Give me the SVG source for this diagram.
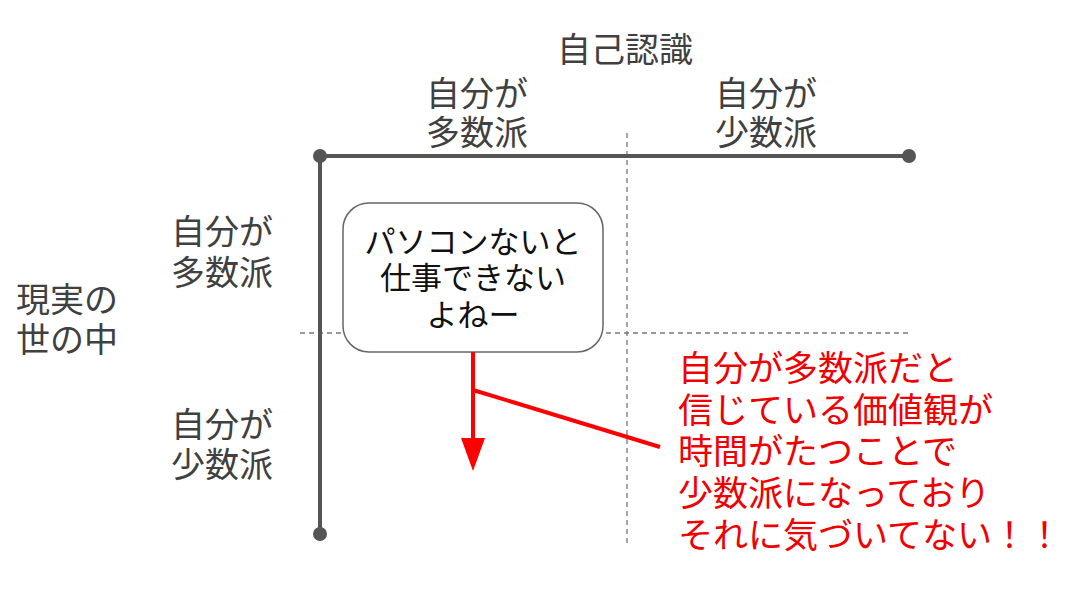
<svg xmlns="http://www.w3.org/2000/svg" width="1088" height="598" viewBox="0 0 1088 598">
<style>
.lbl{font-family:"Noto Sans CJK JP","Noto Sans CJK SC",sans-serif;font-size:34px;fill:#404040;text-anchor:middle}
.box{font-family:"Noto Sans CJK JP","Noto Sans CJK SC",sans-serif;font-size:31px;fill:#111;text-anchor:middle}
.red{font-family:"Noto Sans CJK JP","Noto Sans CJK SC",sans-serif;font-size:35px;fill:#f00000}
.axis{stroke:#555;stroke-width:4;fill:none}
.dash{stroke:#777;stroke-width:1.3;stroke-dasharray:5 4;fill:none}
.dot{fill:#555}
</style>
<rect width="1088" height="598" fill="#fff"/>
<g id="grid">
<line class="dash" x1="627" y1="133" x2="627" y2="545"/>
<line class="dash" x1="300" y1="333" x2="910" y2="333"/>
</g>
<g id="axes">
<line class="axis" x1="320" y1="156" x2="909" y2="156"/>
<line class="axis" x1="320" y1="156" x2="320" y2="534"/>
<circle class="dot" cx="320" cy="156" r="7"/>
<circle class="dot" cx="909" cy="156" r="7"/>
<circle class="dot" cx="320" cy="534" r="7"/>
</g>
<g id="title"><text class="lbl" x="625" y="62">自己認識</text></g>
<g id="col-majority"><text class="lbl" x="477" y="106">自分が</text><text class="lbl" x="477" y="145">多数派</text></g>
<g id="col-minority"><text class="lbl" x="766" y="106">自分が</text><text class="lbl" x="766" y="145">少数派</text></g>
<g id="row-title"><text class="lbl" x="67" y="312">現実の</text><text class="lbl" x="67" y="352">世の中</text></g>
<g id="row-majority"><text class="lbl" x="222" y="244">自分が</text><text class="lbl" x="222" y="285">多数派</text></g>
<g id="row-minority"><text class="lbl" x="222" y="437">自分が</text><text class="lbl" x="222" y="477">少数派</text></g>
<g id="bubble">
<rect x="343" y="203" width="260" height="149" rx="26" ry="26" fill="#fff" stroke="#666" stroke-width="1.5"/>
<text class="box" x="473" y="253">パソコンないと</text>
<text class="box" x="473" y="289">仕事できない</text>
<text class="box" x="473" y="326">よねー</text>
</g>
<g id="connectors">
<line x1="473" y1="352" x2="473" y2="440" stroke="#f00" stroke-width="4"/>
<path d="M461,438 L485,438 L473,471 z" fill="#f00"/>
<line x1="473" y1="390" x2="660" y2="447" stroke="#f00" stroke-width="4"/>
</g>
<g id="note">
<text class="red" x="678" y="381">自分が多数派だと</text>
<text class="red" x="678" y="423">信じている価値観が</text>
<text class="red" x="678" y="464">時間がたつことで</text>
<text class="red" x="678" y="506">少数派になっており</text>
<text class="red" x="678" y="548">それに気づいてない！！</text>
</g>
</svg>
